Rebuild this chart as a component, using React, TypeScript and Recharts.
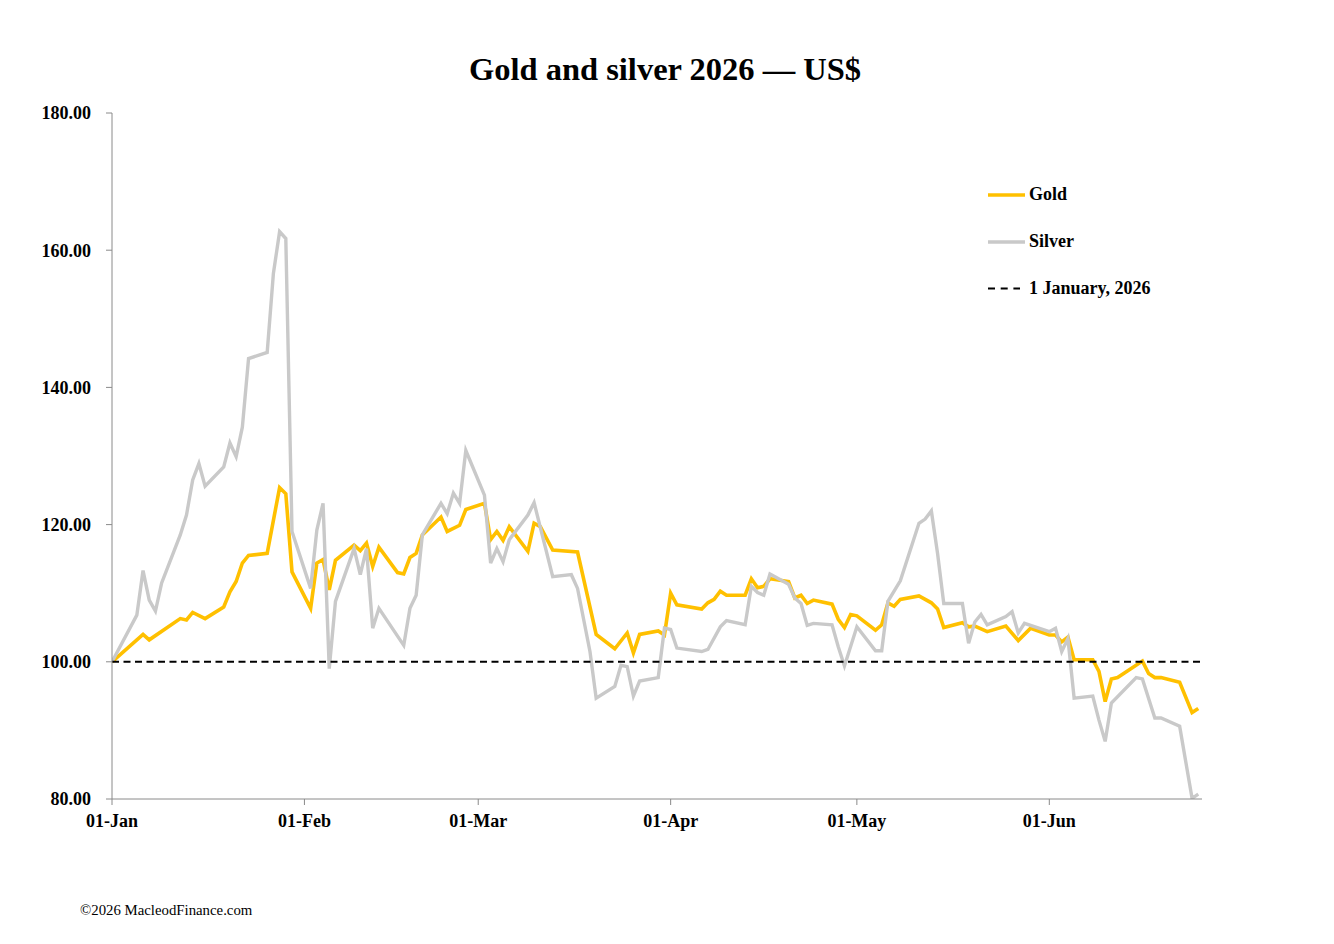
import React from "react";
import { LineChart, Line, XAxis, YAxis, ReferenceLine, Legend } from "recharts";

const FONT = "'Liberation Serif', 'Times New Roman', serif";

// Day offsets from 1 January 2026
const goldDays = [0, 5, 6, 11, 12, 13, 15, 18, 19, 20, 21, 22, 25, 27, 28, 29, 32, 33, 34, 35, 36, 39, 40, 41, 42, 43, 46, 47, 48, 49, 50, 53, 54, 56, 57, 60, 61, 62, 63, 64, 67, 68, 69, 71, 75, 78, 81, 83, 84, 85, 88, 89, 90, 91, 95, 96, 97, 98, 99, 102, 103, 104, 105, 106, 109, 110, 111, 112, 113, 116, 117, 118, 119, 120, 123, 124, 125, 126, 127, 130, 132, 133, 134, 137, 138, 139, 141, 144, 146, 148, 151, 152, 153, 154, 155, 158, 159, 160, 161, 162, 166, 167, 168, 169, 172, 174, 175];
const goldValues = [100, 104.0, 103.2, 106.3, 106.1, 107.2, 106.3, 108.0, 110.2, 111.7, 114.4, 115.5, 115.8, 125.4, 124.5, 113.1, 107.8, 114.4, 114.9, 110.5, 114.8, 117.0, 116.2, 117.3, 113.9, 116.7, 113.0, 112.8, 115.2, 115.8, 118.5, 121.1, 119.0, 119.9, 122.2, 123.1, 117.8, 119.0, 117.7, 119.7, 116.1, 120.2, 119.7, 116.3, 116.0, 104.0, 101.9, 104.2, 101.3, 104.0, 104.5, 103.9, 110.0, 108.3, 107.7, 108.6, 109.1, 110.3, 109.7, 109.7, 112.1, 110.8, 111.0, 112.1, 111.7, 109.3, 109.7, 108.5, 109.0, 108.4, 106.2, 105.0, 106.9, 106.7, 104.6, 105.4, 108.6, 108.1, 109.1, 109.6, 108.6, 107.7, 105.0, 105.7, 105.1, 105.2, 104.4, 105.2, 103.1, 104.9, 103.9, 103.9, 102.9, 103.6, 100.3, 100.3, 98.6, 94.2, 97.5, 97.7, 100.1, 98.3, 97.7, 97.7, 97.0, 92.6, 93.2];

const silverDays = [0, 4, 5, 6, 7, 8, 11, 12, 13, 14, 15, 18, 19, 20, 21, 22, 25, 26, 27, 28, 29, 32, 33, 34, 35, 36, 39, 40, 41, 42, 43, 47, 48, 49, 50, 53, 54, 55, 56, 57, 60, 61, 62, 63, 64, 67, 68, 71, 74, 75, 77, 78, 81, 82, 83, 84, 85, 88, 89, 90, 91, 95, 96, 98, 99, 102, 103, 104, 105, 106, 109, 110, 111, 112, 113, 116, 117, 118, 120, 123, 124, 125, 127, 130, 131, 132, 133, 134, 137, 138, 139, 140, 141, 144, 145, 146, 147, 151, 152, 153, 154, 155, 158, 159, 160, 161, 165, 166, 168, 169, 172, 174, 175];
const silverValues = [100, 106.8, 113.3, 109.0, 107.4, 111.5, 118.5, 121.4, 126.5, 128.9, 125.6, 128.4, 131.9, 129.9, 134.2, 144.2, 145.1, 156.6, 162.7, 161.7, 119.0, 110.7, 119.2, 123.1, 99.0, 108.8, 116.5, 112.7, 116.5, 104.9, 107.8, 102.4, 107.8, 109.7, 118.5, 123.1, 121.6, 124.6, 123.1, 130.8, 124.3, 114.4, 116.5, 114.6, 117.8, 121.4, 123.2, 112.4, 112.7, 110.7, 101.5, 94.7, 96.4, 99.5, 99.3, 95.0, 97.2, 97.7, 104.9, 104.7, 102.0, 101.5, 101.8, 105.1, 106.0, 105.4, 111.0, 110.1, 109.7, 112.8, 111.3, 109.3, 108.5, 105.3, 105.6, 105.4, 102.2, 99.4, 105.1, 101.6, 101.6, 108.8, 111.8, 120.2, 120.8, 122.0, 115.8, 108.5, 108.5, 102.7, 105.8, 106.9, 105.4, 106.6, 107.3, 104.2, 105.6, 104.4, 104.9, 101.5, 103.4, 94.7, 95.0, 91.5, 88.4, 94.0, 97.7, 97.5, 91.8, 91.8, 90.6, 80.1, 80.7];

const xTickDays = [0, 31, 59, 90, 120, 151];
const xTickLabels = ["01-Jan", "01-Feb", "01-Mar", "01-Apr", "01-May", "01-Jun"];
const yTicks = [80, 100, 120, 140, 160, 180];
const baseline = 100;

const goldData = goldDays.map((d, i) => ({ day: d, value: goldValues[i] }));
const silverData = silverDays.map((d, i) => ({ day: d, value: silverValues[i] }));

const GOLD = "#FFC000";
const SILVER = "#C9C9C9";
const AXIS = "#8a8a8a";

const tickStyle = { fill: "#000", fontSize: 18, fontWeight: 700, fontFamily: FONT };

const LegendBox = () => (
  <svg width={200} height={130} style={{ display: "block", overflow: "visible" }}>
    <line x1={10} x2={47} y1={17} y2={17} stroke={GOLD} strokeWidth={3.5} />
    <text x={51} y={22} fontFamily={FONT} fontSize={18} fontWeight={700} fill="#000">Gold</text>
    <line x1={10} x2={47} y1={64} y2={64} stroke={SILVER} strokeWidth={3.5} />
    <text x={51} y={69} fontFamily={FONT} fontSize={18} fontWeight={700} fill="#000">Silver</text>
    <line x1={10} x2={42} y1={110.5} y2={110.5} stroke="#000" strokeWidth={2} strokeDasharray="7 5.7" />
    <text x={51} y={116} fontFamily={FONT} fontSize={18} fontWeight={700} fill="#000">1 January, 2026</text>
  </svg>
);

export default function App() {
  return (
    <div style={{ position: "relative", width: 1326, height: 936, background: "#fff" }}>
      <LineChart
        width={1326}
        height={936}
        margin={{ top: 105, right: 132, bottom: 105, left: 24 }}
        style={{ fontFamily: FONT }}
      >
        <XAxis
          dataKey="day"
          type="number"
          domain={[0, 175.6]}
          ticks={xTickDays}
          tickFormatter={(v: number) => xTickLabels[xTickDays.indexOf(v)] ?? ""}
          tick={tickStyle}
          tickSize={6}
          tickMargin={9}
          height={40}
          stroke={AXIS}
          allowDataOverflow
          interval={0}
        />
        <YAxis
          type="number"
          domain={[80, 180]}
          ticks={yTicks}
          tickFormatter={(v: number) => v.toFixed(2)}
          tick={tickStyle}
          tickSize={6}
          tickMargin={15}
          width={80}
          stroke={AXIS}
          allowDataOverflow
          interval={0}
        />
        <Legend
          layout="vertical"
          align="center"
          verticalAlign="middle"
          content={() => <LegendBox />}
          wrapperStyle={{ left: 970, top: 170, width: 200, height: 130 }}
        />
        <Line
          data={goldData}
          dataKey="value"
          name="Gold"
          type="linear"
          stroke={GOLD}
          strokeWidth={3.6}
          dot={false}
          activeDot={false}
          isAnimationActive={false}
        />
        <Line
          data={silverData}
          dataKey="value"
          name="Silver"
          type="linear"
          stroke={SILVER}
          strokeWidth={3.4}
          dot={false}
          activeDot={false}
          isAnimationActive={false}
        />
        <ReferenceLine y={baseline} stroke="#000" strokeWidth={2} strokeDasharray="7 4.5" />
      </LineChart>
      <svg
        width={1326}
        height={936}
        style={{ position: "absolute", left: 0, top: 0, pointerEvents: "none" }}
      >
        <text x={657} y={72} textAnchor="middle" fontFamily={FONT} fontSize={32.5} fontWeight={700} fill="#000">
          Gold and silver 2026 — US$
        </text>
        <text x={72} y={907} fontFamily={FONT} fontSize={14.8} fill="#000">
          ©2026 MacleodFinance.com
        </text>
      </svg>
    </div>
  );
}
